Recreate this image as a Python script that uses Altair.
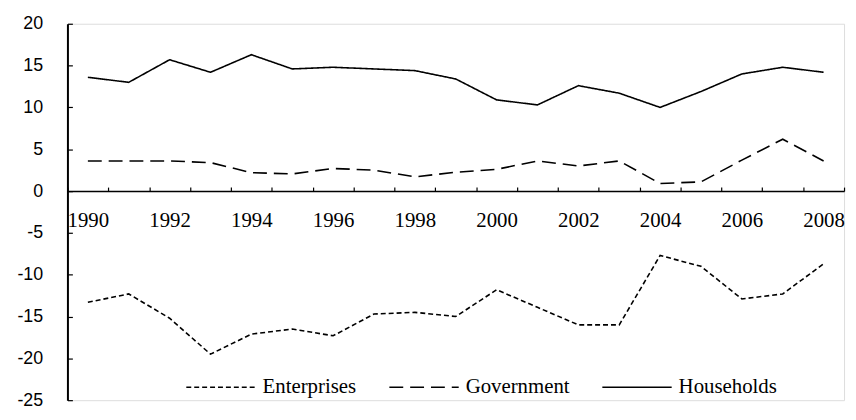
import altair as alt
import pandas as pd

years = [str(y) for y in range(1990, 2009)]
households = [13.6, 13.0, 15.7, 14.2, 16.3, 14.6, 14.8, 14.6, 14.4, 13.4,
              10.9, 10.3, 12.6, 11.7, 10.0, 11.9, 14.0, 14.8, 14.2]
government = [3.6, 3.6, 3.6, 3.4, 2.2, 2.05, 2.7, 2.5, 1.7, 2.25,
              2.6, 3.6, 3.0, 3.6, 0.9, 1.1, 3.7, 6.2, 3.6]
enterprises = [-13.3, -12.3, -15.2, -19.5, -17.1, -16.5, -17.3, -14.7, -14.5, -15.0,
               -11.8, -13.9, -16.0, -16.0, -7.7, -9.0, -12.9, -12.3, -8.7]
series = ["Enterprises", "Government", "Households"]
y_ticks = [20, 15, 10, 5, 0, -5, -10, -15, -20, -25]

rows = []
for name, vals in zip(series, [enterprises, government, households]):
    for yr, v in zip(years, vals):
        rows.append({"year": yr, "value": v, "sector": name})
df = pd.DataFrame(rows)

W = 784
H = 380
y_min, y_max = -25, 20
zero_px = H * y_max / (y_max - y_min)

serif = "Liberation Serif"

chart = alt.Chart(df).mark_line(color="black", strokeWidth=1.6).encode(
    x=alt.X("year:O", bandPosition=0.5,
            scale=alt.Scale(type="band", paddingInner=0, paddingOuter=0),
            axis=alt.Axis(orient="top", offset=-zero_px, title=None,
                          tickBand="extent", tickSize=4, tickColor="black",
                          tickWidth=1.2, domainColor="black", domainWidth=1.5,
                          labelExpr="parseInt(datum.label) % 2 == 0 ? datum.label : ''",
                          labelAngle=0, labelPadding=-40, labelBaseline="alphabetic",
                          labelFont=serif, labelFontSize=21,
                          labelColor="black", labelOverlap=False, grid=False)),
    y=alt.Y("value:Q",
            scale=alt.Scale(domain=[y_min, y_max], nice=False, zero=False),
            axis=alt.Axis(orient="right", offset=-W, title=None, values=y_ticks,
                          tickSize=5, tickColor="black", tickWidth=1.2,
                          domainColor="black", domainWidth=2,
                          labelExpr="(datum.value < 0 ? '-' : '') + abs(datum.value)",
                          labelAlign="right", labelBaseline="middle",
                          labelPadding=-30, labelFont="Liberation Sans",
                          labelFontSize=18, labelColor="black", grid=False)),
    strokeDash=alt.StrokeDash("sector:N",
        scale=alt.Scale(domain=series, range=[[5, 3], [14, 7], [1, 0]]),
        legend=alt.Legend(orient="none", legendX=119, legendY=331,
                          direction="horizontal", title=None,
                          symbolType="stroke", symbolSize=4900,
                          symbolStrokeWidth=1.5, symbolStrokeColor="black",
                          labelFont=serif, labelFontSize=21,
                          labelColor="black", labelOffset=6,
                          columnPadding=30, labelLimit=300)),
).properties(
    width=W, height=H,
    autosize=alt.AutoSizeParams(type="none"),
    padding={"left": 60, "top": 14, "right": 4, "bottom": 8},
).configure_view(stroke=None).configure_legend(
    labelFont=serif, labelFontSize=21, labelColor="black"
).configure(background="white", font=serif)

chart.save("out.html", embed_options={"renderer": "svg", "actions": False})
